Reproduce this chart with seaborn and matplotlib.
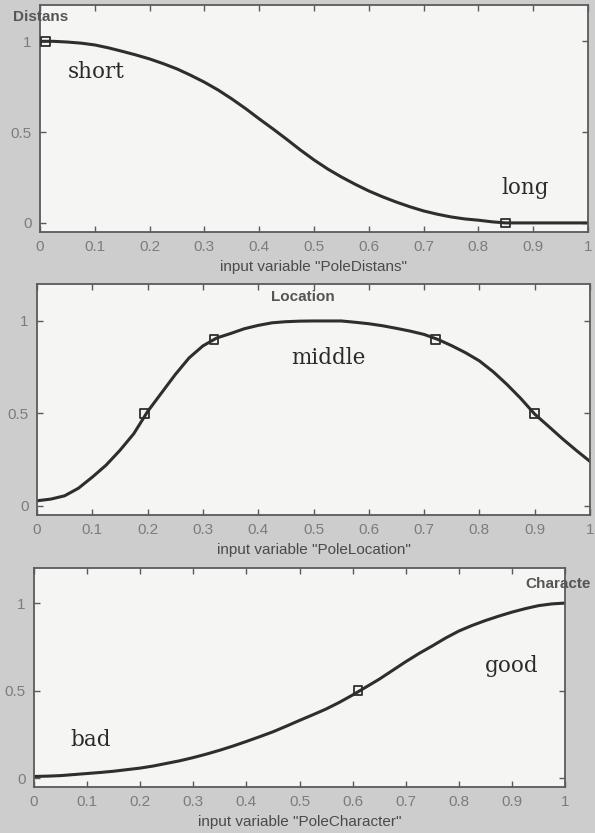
import matplotlib
matplotlib.use("Agg")
import matplotlib.pyplot as plt
import seaborn as sns
import pandas as pd

# Membership grades sampled along the normalised input range
x_grid = [0.000, 0.025, 0.050, 0.075, 0.100, 0.125, 0.150, 0.175, 0.200, 0.225,
          0.250, 0.275, 0.300, 0.325, 0.350, 0.375, 0.400, 0.425, 0.450, 0.475,
          0.500, 0.525, 0.550, 0.575, 0.600, 0.625, 0.650, 0.675, 0.700, 0.725,
          0.750, 0.775, 0.800, 0.825, 0.850, 0.875, 0.900, 0.925, 0.950, 0.975,
          1.000]

short_mu = [1.000, 1.000, 0.996, 0.990, 0.980, 0.964, 0.945, 0.925, 0.903, 0.877,
            0.848, 0.813, 0.775, 0.732, 0.683, 0.630, 0.573, 0.518, 0.461, 0.402,
            0.347, 0.297, 0.253, 0.213, 0.176, 0.144, 0.115, 0.089, 0.066, 0.048,
            0.033, 0.022, 0.015, 0.006, 0.000, 0.000, 0.000, 0.000, 0.000, 0.000,
            0.000]
middle_mu = [0.027, 0.036, 0.054, 0.095, 0.155, 0.220, 0.300, 0.390, 0.510, 0.610,
             0.710, 0.800, 0.865, 0.908, 0.932, 0.958, 0.976, 0.990, 0.996, 0.999,
             1.000, 1.000, 1.000, 0.993, 0.985, 0.974, 0.960, 0.945, 0.927, 0.900,
             0.866, 0.828, 0.784, 0.725, 0.656, 0.580, 0.496, 0.430, 0.363, 0.300,
             0.240]
good_mu = [0.010, 0.012, 0.015, 0.021, 0.027, 0.033, 0.040, 0.049, 0.058, 0.070,
           0.085, 0.100, 0.118, 0.138, 0.160, 0.184, 0.210, 0.237, 0.265, 0.297,
           0.330, 0.362, 0.395, 0.433, 0.475, 0.520, 0.565, 0.615, 0.665, 0.712,
           0.755, 0.800, 0.840, 0.872, 0.900, 0.925, 0.948, 0.968, 0.985, 0.995,
           1.000]

# Parameter points marked on each membership function
short_pts_x, short_pts_y = [0.01, 0.85], [1.0, 0.0]
middle_pts_x, middle_pts_y = [0.195, 0.32, 0.72, 0.90], [0.5, 0.9, 0.9, 0.5]
good_pts_x, good_pts_y = [0.61], [0.5]

x_ticks = [0.0, 0.1, 0.2, 0.3, 0.4, 0.5, 0.6, 0.7, 0.8, 0.9, 1.0]
x_tick_labels = ["0", "0.1", "0.2", "0.3", "0.4", "0.5", "0.6", "0.7", "0.8", "0.9", "1"]
y_ticks = [0.0, 0.5, 1.0]
y_tick_labels = ["0", "0.5", "1"]

sns.set_style("ticks")
plt.rcParams["font.family"] = ["Liberation Sans", "DejaVu Sans"]

W, H = 595, 833
fig = plt.figure(figsize=(W / 100, H / 100), dpi=100)
fig.patch.set_facecolor("#cdcdcd")

LINE = "#2e2e2e"
SPINE = "#5a5a5a"
TICKTXT = "#7c7c7c"


def px_axes(left, top, right, bottom):
    return fig.add_axes([left / W, 1 - bottom / H, (right - left) / W, (bottom - top) / H])


def style(ax, xlabel):
    ax.set_facecolor("#f5f5f3")
    ax.set_xlim(0, 1)
    ax.set_ylim(-0.05, 1.2)
    ax.set_xticks(x_ticks)
    ax.set_xticklabels(x_tick_labels)
    ax.set_yticks(y_ticks)
    ax.set_yticklabels(y_tick_labels)
    ax.tick_params(direction="in", top=True, right=True, length=4, width=1,
                   color=SPINE, labelcolor=TICKTXT, labelsize=11, pad=6)
    for s in ax.spines.values():
        s.set_visible(True)
        s.set_color(SPINE)
        s.set_linewidth(1.3)
    ax.set_xlabel(xlabel, fontsize=11, color="#4a4a4a", labelpad=4)
    ax.set_ylabel("")


def draw(ax, mu, px, py):
    df = pd.DataFrame({"x": x_grid, "mu": mu})
    sns.lineplot(data=df, x="x", y="mu", ax=ax, color=LINE, linewidth=2.2,
                 estimator=None, sort=True)
    pts = pd.DataFrame({"x": px, "y": py})
    sns.scatterplot(data=pts, x="x", y="y", ax=ax, marker="s", s=40,
                    facecolor="none", edgecolor=LINE, linewidth=1.3, zorder=5)


serif = dict(family=["DejaVu Serif"], fontsize=15.5, color="#2a2a2a",
             ha="center", va="center")
title_kw = dict(fontsize=11, fontweight="bold", color="#555555")

# Distance
ax1 = px_axes(40, 5, 588, 232)
draw(ax1, short_mu, short_pts_x, short_pts_y)
style(ax1, 'input variable "PoleDistans"')
ax1.text(0.102, 0.83, "short", **serif)
ax1.text(0.885, 0.19, "long", **serif)
fig.text(13 / W, 1 - 17 / H, "Distans", ha="left", va="center", **title_kw)

# Location
ax2 = px_axes(37, 284, 590, 515)
draw(ax2, middle_mu, middle_pts_x, middle_pts_y)
style(ax2, 'input variable "PoleLocation"')
ax2.text(0.527, 0.80, "middle", **serif)
ax2.text(0.48, 1.13, "Location", ha="center", va="center", **title_kw)

# Character
ax3 = px_axes(34, 568, 565, 787)
draw(ax3, good_mu, good_pts_x, good_pts_y)
style(ax3, 'input variable "PoleCharacter"')
ax3.text(0.106, 0.22, "bad", **serif)
ax3.text(0.90, 0.64, "good", **serif)
fig.text(525 / W, 1 - 584 / H, "Characte", ha="left", va="center", **title_kw)

fig.savefig("out.png", dpi=100, facecolor=fig.get_facecolor())
